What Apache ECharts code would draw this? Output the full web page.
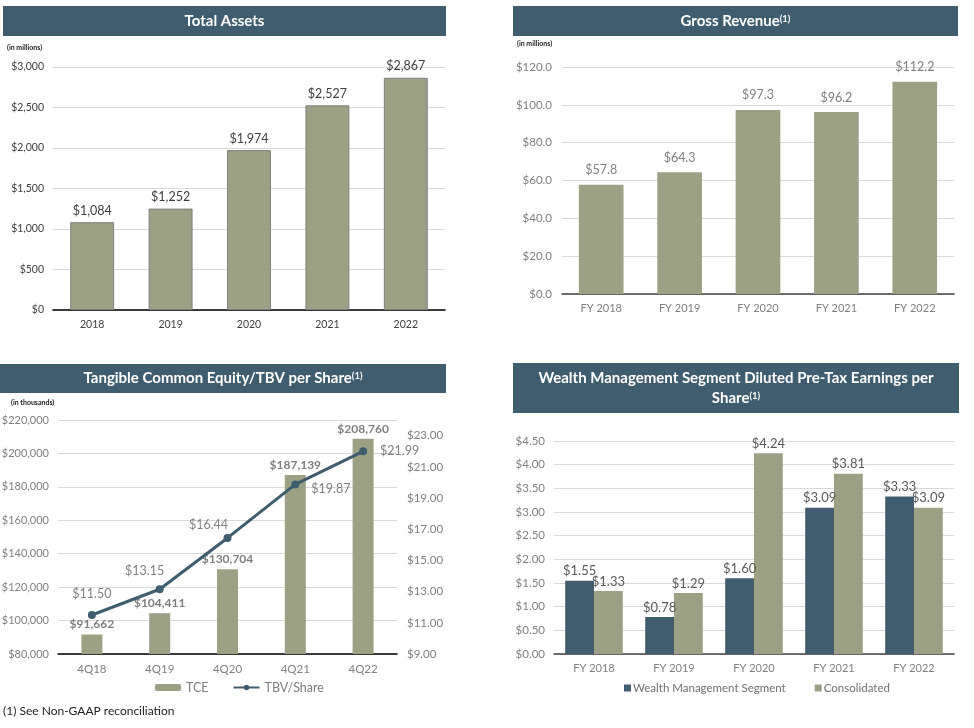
<!DOCTYPE html>
<html><head><meta charset="utf-8">
<script src="https://cdn.jsdelivr.net/npm/echarts@6/dist/echarts.min.js"></script>
<style>html,body{margin:0;padding:0;background:#fff;}#c{width:974px;height:728px;}</style>
</head><body><div id="c"></div>
<script>
// ---- data ----
var assetYears = ['2018','2019','2020','2021','2022'];
var totalAssets = [1084, 1252, 1974, 2527, 2867];
var revYears = ['FY 2018','FY 2019','FY 2020','FY 2021','FY 2022'];
var grossRevenue = [57.8, 64.3, 97.3, 96.2, 112.2];
var quarters = ['4Q18','4Q19','4Q20','4Q21','4Q22'];
var tce = [91662, 104411, 130704, 187139, 208760];
var tbvPerShare = [11.50, 13.15, 16.44, 19.87, 21.99];
var epsYears = ['FY 2018','FY 2019','FY 2020','FY 2021','FY 2022'];
var wealthMgmt = [1.55, 0.78, 1.60, 3.09, 3.33];
var consolidated = [1.33, 1.29, 4.24, 3.81, 3.09];

var OLIVE = '#9CA185', SLATE = '#3F5D6F';
var F = 'Lato, "Noto Sans", sans-serif';
function comma(v){ return String(Math.round(v)).replace(/\B(?=(\d{3})+(?!\d))/g, ','); }

var chart = echarts.init(document.getElementById('c'), null, {renderer:'canvas'});

function banner(x, y, w, h, lines){
  var els = [{type:'rect', shape:{x:x,y:y,width:w,height:h}, style:{fill:SLATE}}];
  lines.forEach(function(l){
    els.push({type:'text', x:x+w/2, y:l.y, style:{text:l.t, rich:{b:{fontFamily:F,fontWeight:'bold',fontSize:15,fill:'#fff'}, s:{fontFamily:F,fontWeight:'bold',fontSize:9.5,fill:'#fff',verticalAlign:'top'}}, align:'center', verticalAlign:'middle'}});
  });
  return els;
}
var graphics = [].concat(
  banner(3, 6, 443, 30, [{t:'{b|Total Assets}', y:21}]),
  banner(513, 6, 445, 30, [{t:'{b|Gross Revenue}{s|(1)}', y:21}]),
  banner(0, 364, 446, 29, [{t:'{b|Tangible Common Equity/TBV per Share}{s|(1)}', y:378}]),
  banner(513, 363, 446, 50, [{t:'{b|Wealth Management Segment Diluted Pre-Tax Earnings per}', y:378},{t:'{b|Share}{s|(1)}', y:398}]),
  [
    {type:'text', x:7, y:48, style:{text:'(in millions)', font:'bold 7px '+F, fill:'#222', verticalAlign:'middle'}},
    {type:'text', x:517, y:44, style:{text:'(in millions)', font:'bold 7px '+F, fill:'#222', verticalAlign:'middle'}},
    {type:'text', x:11, y:403, style:{text:'(in thousands)', font:'bold 7px '+F, fill:'#222', verticalAlign:'middle'}},
    {type:'text', x:3, y:711, style:{text:'(1) See Non-GAAP reconciliation', font:'12px '+F, fill:'#222', verticalAlign:'middle'}}
  ]
);

var split = {show:true, lineStyle:{color:'#D9D9D9', width:1}};
function catAxis(grid, data, opts){
  return {type:'category', gridIndex:grid, data:data, axisTick:{show:false},
    axisLine:{lineStyle:{color:opts.line||'#404040', width:1.5}},
    axisLabel:{fontFamily:F, fontSize:opts.fs||12, color:opts.color||'#7F7F7F', margin:opts.margin||8}};
}

var lineLabelOffsets = [[0,-6],[-15,-3],[-19,3],[7,5],[8,0]];
var lineLabelPos = ['top','top','top','right','right'];

var option = {
  animation:false,
  graphic: graphics,
  grid:[
    {left:53, right:529, top:67, bottom:418, outerBoundsMode:'none'},
    {left:562, right:20, top:67, bottom:434, outerBoundsMode:'none'},
    {left:58, right:577, top:420, bottom:74, outerBoundsMode:'none'},
    {left:554, right:20, top:441, bottom:74, outerBoundsMode:'none'}
  ],
  legend:[
    {data:['TCE','TBV/Share'], left:150, top:676, itemWidth:26, itemHeight:7, itemGap:24,
     textStyle:{fontFamily:F, fontSize:12.5, color:'#7F7F7F'}},
    {data:['Wealth Management Segment','Consolidated'], left:619, top:677, icon:'rect', itemWidth:7, itemHeight:7, itemGap:29,
     textStyle:{fontFamily:F, fontSize:11.5, color:'#6F6F6F', padding:[0,0,0,-3]}}
  ],
  xAxis:[
    catAxis(0, assetYears, {line:'#000', fs:10.5, color:'#404040', margin:9}),
    catAxis(1, revYears, {line:'#404040', fs:11, color:'#7F7F7F', margin:9}),
    catAxis(2, quarters, {line:'#000', fs:11.5, color:'#7F7F7F', margin:9}),
    catAxis(3, epsYears, {line:'#404040', fs:11, color:'#7F7F7F', margin:9})
  ],
  yAxis:[
    {type:'value', gridIndex:0, min:0, max:3000, interval:500, splitLine:split, axisLine:{show:false}, axisTick:{show:false},
     axisLabel:{fontFamily:F, fontSize:10.5, color:'#404040', margin:9, formatter:function(v){return '$'+comma(v);}}},
    {type:'value', gridIndex:1, min:0, max:120, interval:20, splitLine:split, axisLine:{show:false}, axisTick:{show:false},
     axisLabel:{fontFamily:F, fontSize:11.5, color:'#7F7F7F', margin:10, formatter:function(v){return '$'+v.toFixed(1);}}},
    {type:'value', gridIndex:2, min:80000, max:220000, interval:20000, splitLine:split, axisLine:{show:false}, axisTick:{show:false},
     axisLabel:{fontFamily:F, fontSize:11, color:'#7F7F7F', margin:9, formatter:function(v){return '$'+comma(v);}}},
    {type:'value', gridIndex:2, position:'right', min:9, max:24, interval:2, splitLine:{show:false}, axisLine:{show:false}, axisTick:{show:false},
     axisLabel:{fontFamily:F, fontSize:11.5, color:'#7F7F7F', margin:10, showMaxLabel:false, formatter:function(v){return v===24?'':'$'+v.toFixed(2);}}},
    {type:'value', gridIndex:3, min:0, max:4.5, interval:0.5, splitLine:split, axisLine:{show:false}, axisTick:{show:false},
     axisLabel:{fontFamily:F, fontSize:11.5, color:'#7F7F7F', margin:9, formatter:function(v){return '$'+v.toFixed(2);}}}
  ],
  series:[
    {type:'bar', xAxisIndex:0, yAxisIndex:0, data:totalAssets, barWidth:'56%',
     itemStyle:{color:OLIVE, borderColor:'#7F7F7F', borderWidth:1},
     label:{show:true, position:'top', distance:5, fontFamily:F, fontSize:12.5, color:'#404040', formatter:function(p){return '$'+comma(p.value);}}},
    {type:'bar', xAxisIndex:1, yAxisIndex:1, data:grossRevenue, barWidth:'57%',
     itemStyle:{color:OLIVE},
     label:{show:true, position:'top', distance:8, fontFamily:F, fontSize:12.5, color:'#7F7F7F', formatter:function(p){return '$'+p.value.toFixed(1);}}},
    {name:'TCE', type:'bar', xAxisIndex:2, yAxisIndex:2, data:tce, barWidth:'31%',
     itemStyle:{color:OLIVE},
     label:{show:true, position:'top', distance:4, fontFamily:F, fontSize:12, fontWeight:'bold', color:'#7F7F7F', formatter:function(p){return '$'+comma(p.value);}}},
    {name:'TBV/Share', type:'line', xAxisIndex:2, yAxisIndex:3,
     data: tbvPerShare.map(function(v,i){ return {value:v, label:{position:lineLabelPos[i], offset:lineLabelOffsets[i]}}; }),
     symbol:'circle', symbolSize:8, lineStyle:{color:SLATE, width:3}, itemStyle:{color:SLATE},
     label:{show:true, fontFamily:F, fontSize:12.5, color:'#7F7F7F', formatter:function(p){return '$'+p.value.toFixed(2);}}},
    {name:'Wealth Management Segment', type:'bar', xAxisIndex:3, yAxisIndex:4, data:wealthMgmt, barWidth:'36%', barGap:'0%',
     itemStyle:{color:SLATE},
     label:{show:true, position:'top', distance:3, fontFamily:F, fontSize:13, color:'#595959', formatter:function(p){return '$'+p.value.toFixed(2);}}},
    {name:'Consolidated', type:'bar', xAxisIndex:3, yAxisIndex:4, data:consolidated, barWidth:'36%', barGap:'0%',
     itemStyle:{color:OLIVE},
     label:{show:true, position:'top', distance:3, fontFamily:F, fontSize:13, color:'#595959', formatter:function(p){return '$'+p.value.toFixed(2);}}}
  ]
};
chart.setOption(option);
</script></body></html>
